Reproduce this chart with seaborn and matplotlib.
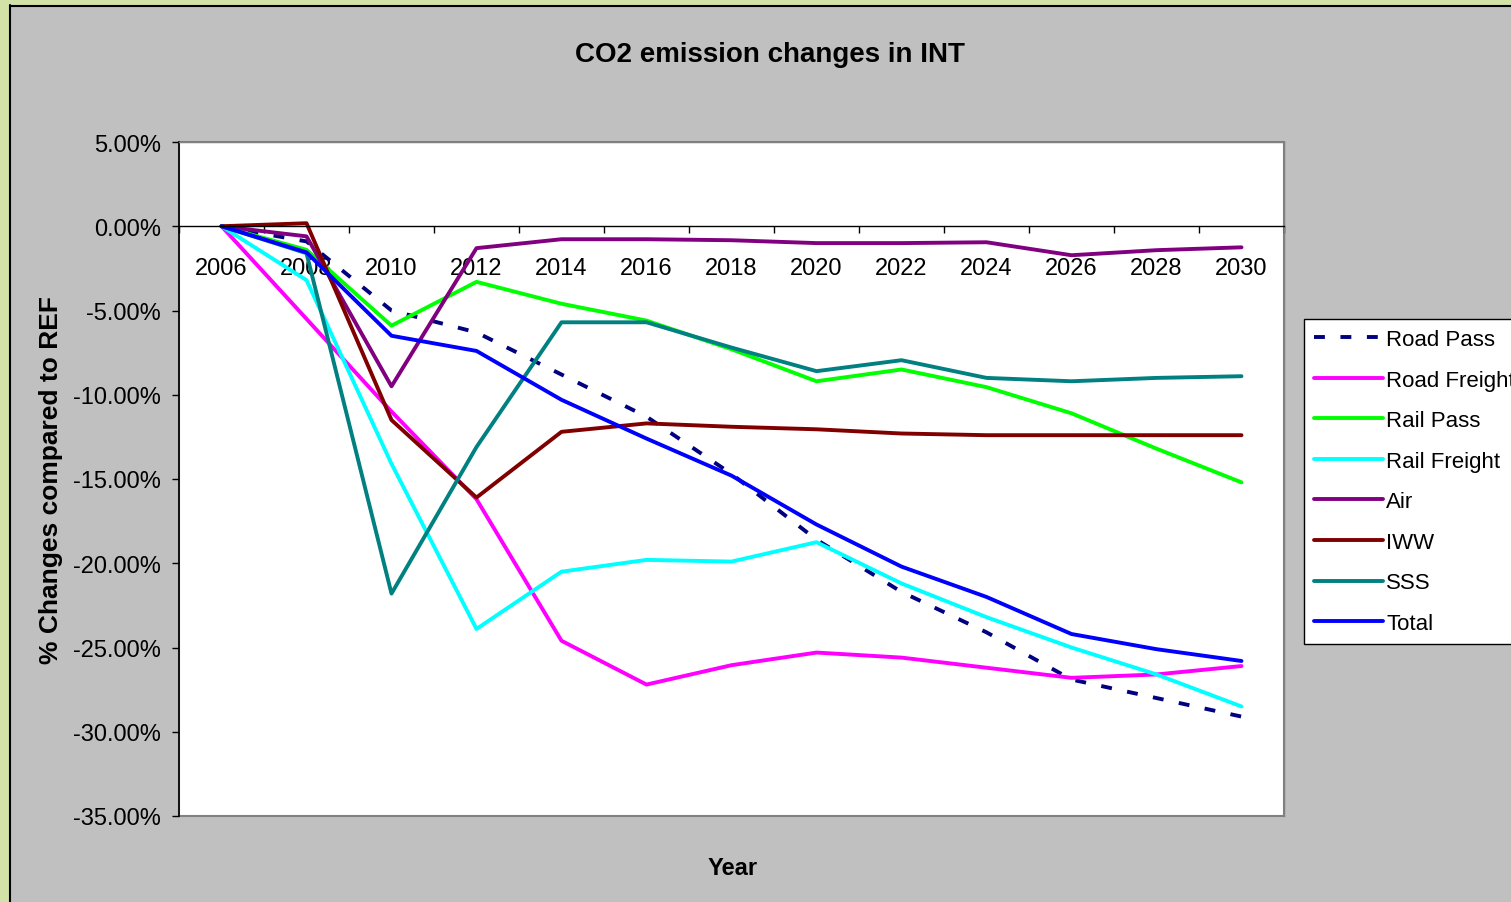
import pandas as pd
import matplotlib.pyplot as plt
import matplotlib.patches as mpatches
from matplotlib.ticker import FixedLocator, FuncFormatter
import seaborn as sns

years = [2006, 2008, 2010, 2012, 2014, 2016, 2018, 2020, 2022, 2024, 2026, 2028, 2030]

road_pass = [0.0, -0.9, -5.0, -6.3, -8.8, -11.3, -14.7, -18.6, -21.7, -24.1, -26.9, -28.0, -29.1]
road_freight = [0.0, -5.5, -11.0, -16.2, -24.6, -27.2, -26.05, -25.3, -25.6, -26.2, -26.8, -26.6, -26.1]
rail_pass = [0.0, -1.4, -5.9, -3.3, -4.6, -5.6, -7.3, -9.2, -8.5, -9.55, -11.1, -13.2, -15.2]
rail_freight = [0.0, -3.2, -14.1, -23.9, -20.5, -19.8, -19.9, -18.75, -21.2, -23.2, -25.0, -26.6, -28.5]
air = [0.0, -0.6, -9.5, -1.3, -0.77, -0.77, -0.83, -1.0, -1.0, -0.95, -1.72, -1.42, -1.25]
iww = [0.0, 0.18, -11.5, -16.1, -12.2, -11.7, -11.9, -12.05, -12.3, -12.4, -12.4, -12.4, -12.4]
sss = [0.0, -1.6, -21.8, -13.1, -5.7, -5.7, -7.2, -8.6, -7.95, -9.0, -9.2, -9.0, -8.9]
total = [0.0, -1.55, -6.5, -7.4, -10.3, -12.6, -14.8, -17.7, -20.2, -22.0, -24.2, -25.1, -25.8]

series = {
    "Road Pass": road_pass,
    "Road Freight": road_freight,
    "Rail Pass": rail_pass,
    "Rail Freight": rail_freight,
    "Air": air,
    "IWW": iww,
    "SSS": sss,
    "Total": total,
}
colors = {
    "Road Pass": "#000080",
    "Road Freight": "#FF00FF",
    "Rail Pass": "#00FF00",
    "Rail Freight": "#00FFFF",
    "Air": "#800080",
    "IWW": "#800000",
    "SSS": "#008080",
    "Total": "#0000FF",
}

df = pd.DataFrame([
    {"Year": y, "Series": name, "Change": v}
    for name, vals in series.items() for y, v in zip(years, vals)
])

sns.set_style("white")
plt.rcParams["font.family"] = ["Liberation Sans", "DejaVu Sans"]
plt.rcParams["text.color"] = "black"
plt.rcParams["axes.labelcolor"] = "black"
plt.rcParams["xtick.color"] = "black"
plt.rcParams["ytick.color"] = "black"

fig = plt.figure(figsize=(15.11, 9.03), dpi=100)
fig.patch.set_facecolor("#C0C0C0")

# green frame strips at left / top edge
fig.patches.append(mpatches.Rectangle((0, 0), 9 / 1511, 1, transform=fig.transFigure,
                                      facecolor="#D3E2A6", edgecolor="none", zorder=0))
fig.patches.append(mpatches.Rectangle((0, 1 - 6 / 903), 1, 6 / 903, transform=fig.transFigure,
                                      facecolor="#D3E2A6", edgecolor="none", zorder=0))
fig.lines.append(plt.Line2D([9.5 / 1511, 9.5 / 1511], [0, 1 - 6 / 903], transform=fig.transFigure,
                            color="black", lw=1.5))
fig.lines.append(plt.Line2D([9.5 / 1511, 1], [1 - 6.5 / 903, 1 - 6.5 / 903], transform=fig.transFigure,
                            color="black", lw=1.5))

ax = fig.add_axes([179 / 1511, 86 / 903, 1105 / 1511, 674 / 903])
ax.set_facecolor("white")

for name in series:
    sub = df[df["Series"] == name]
    kw = {"dashes": (2.8, 4.0)} if name == "Road Pass" else {}
    sns.lineplot(data=sub, x="Year", y="Change", color=colors[name], lw=2.8,
                 label=name, ax=ax, **kw)

ax.set_xlim(2005, 2031)
ax.set_ylim(-35, 5)

# y axis
ax.set_yticks(range(-35, 6, 5))
ax.yaxis.set_major_formatter(FuncFormatter(lambda v, p: f"{v:.2f}%"))
ax.tick_params(axis="y", which="major", direction="out", length=5, width=1,
               color="black", labelcolor="black", pad=8, labelsize=17, left=True)

# x axis sits on the zero line
ax.spines["bottom"].set_position(("data", 0))
ax.set_xticks(years)
ax.xaxis.set_minor_locator(FixedLocator(range(2005, 2032, 2)))
ax.tick_params(axis="x", which="major", length=0, pad=22, labelsize=17, labelcolor="black")
ax.tick_params(axis="x", which="minor", direction="out", length=5, width=1,
               color="black", bottom=True)

for side in ["top", "right"]:
    ax.spines[side].set_color("#808080")
    ax.spines[side].set_linewidth(1)
ax.spines["left"].set_color("black")
ax.spines["left"].set_linewidth(1.2)
ax.spines["bottom"].set_color("black")
ax.spines["bottom"].set_linewidth(1)
ax.add_patch(mpatches.Rectangle((0, 0), 1, 1, transform=ax.transAxes, fill=False,
                                edgecolor="#808080", lw=1.5, zorder=0.5, clip_on=False))

ax.set_title("CO2 emission changes in INT", fontsize=20, fontweight="bold", pad=58, x=0.535,
             color="black")
ax.set_xlabel("Year", fontsize=17, fontweight="bold", color="black")
ax.set_ylabel("% Changes compared to REF", fontsize=19, fontweight="bold", color="black")
ax.xaxis.set_label_coords(0.501, -0.06)
ax.yaxis.set_label_coords(-0.105, 0.5)

handles, labels = ax.get_legend_handles_labels()
leg = ax.legend(handles, labels, loc="upper left", bbox_to_anchor=(1304 / 1511, 1 - 320 / 903),
                bbox_transform=fig.transFigure, borderaxespad=0, fontsize=16,
                frameon=True, fancybox=False, framealpha=1, facecolor="white",
                edgecolor="black", handlelength=3.1, handletextpad=0.15,
                borderpad=0.45, labelspacing=0.88)
leg.get_frame().set_linewidth(1)
for t in leg.get_texts():
    t.set_color("black")

plt.savefig("out.png", dpi=100, facecolor=fig.get_facecolor())
plt.close()
